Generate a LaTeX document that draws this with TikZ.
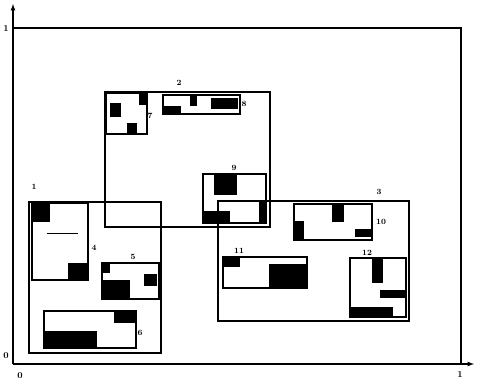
\documentclass[tikz,border=0pt]{standalone}
\usepackage{tikz}
\usetikzlibrary{arrows}

\begin{document}
\begin{tikzpicture}[
    x=1pt, y=-1pt,
    frame/.style={draw, line width=1.2pt},
    subframe/.style={draw, line width=1.4pt},
    blk/.style={fill=black},
    axis/.style={-latex, line width=1.2pt},
    lbl/.style={font=\footnotesize\bfseries, inner sep=0pt},
    ticklbl/.style={font=\small\bfseries, inner sep=0pt}
]
    \useasboundingbox (0,0) rectangle (477,386);

    % Unit square and axes
    \coordinate (origin) at (13,364);
    \coordinate (xend) at (474,364);
    \coordinate (yend) at (13,4);
    \draw[axis] (origin) -- (xend);
    \draw[axis] (origin) -- (yend);
    \draw[line width=1.2pt] (13,28) -- (461,28) -- (461,364);
    \node[ticklbl] (y1) at (6,29) {1};
    \node[ticklbl] (y0) at (6,356) {0};
    \node[ticklbl] (x0) at (20,376) {0};
    \node[ticklbl] (x1) at (460,375) {1};

    % Parent boxes
    \draw[frame] (29,202) rectangle (161,353);
    \draw[frame] (105,92) rectangle (270,227);
    \draw[frame] (218,201) rectangle (409,321);
    \node[lbl] (n1) at (34,187) {1};
    \node[lbl] (n2) at (179,83) {2};
    \node[lbl] (n3) at (379,192) {3};

    % Child boxes
    \draw[subframe] (32,203) rectangle (88,280);
    \draw[subframe] (102,263) rectangle (159,299);
    \draw[subframe] (44,311) rectangle (136,348);
    \draw[subframe] (106,93) rectangle (147,134);
    \draw[subframe] (163,95) rectangle (240,114);
    \draw[subframe] (203,174) rectangle (266,223);
    \draw[subframe] (294,204) rectangle (372,240);
    \draw[subframe] (223,257) rectangle (307,288);
    \draw[subframe] (350,258) rectangle (406,317);

    % Occupied regions
    \foreach \xa/\ya/\xb/\yb in {
        32/203/50/222, 68/263/88/280,
        102/263/110/273, 102/280/130/299, 144/274/157/286,
        114/311/135/323, 44/331/97/348,
        139/93/147/105, 110/103/121/117, 127/123/137/133,
        163/106/181/114, 190/96/197/106, 211/98/238/109,
        214/175/237/195, 203/211/230/223, 259/201/266/223,
        332/204/344/222, 294/221/304/240, 355/229/371/237,
        223/257/240/267, 269/264/307/288,
        372/259/383/283, 380/290/405/298, 350/307/393/317}
        \fill[blk] (\xa,\ya) rectangle (\xb,\yb);
    \draw[line width=1pt] (47,233) -- (78,233);

    % Child labels
    \node[lbl] (n4) at (94,248) {4};
    \node[lbl] (n5) at (133,257) {5};
    \node[lbl] (n6) at (140,333) {6};
    \node[lbl] (n7) at (150,116) {7};
    \node[lbl] (n8) at (244,104) {8};
    \node[lbl] (n9) at (234,168) {9};
    \node[lbl] (n10) at (381,222) {10};
    \node[lbl] (n11) at (239,251) {11};
    \node[lbl] (n12) at (367,253) {12};

\end{tikzpicture}
\end{document}
